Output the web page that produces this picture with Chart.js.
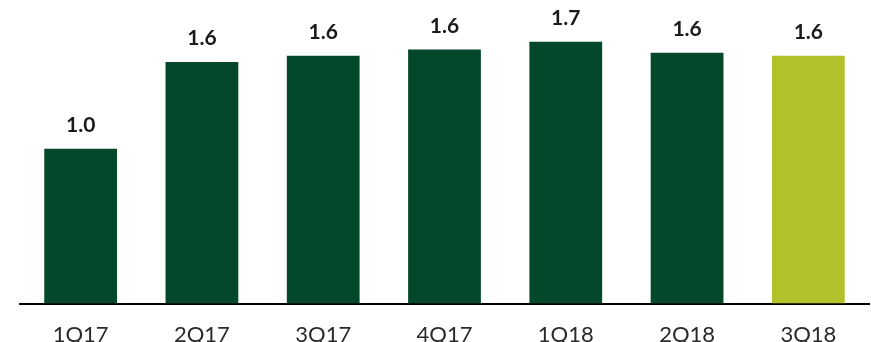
<!DOCTYPE html>
<html>
<head>
<meta charset="utf-8">
<script src="https://cdn.jsdelivr.net/npm/chart.js@4.4.0/dist/chart.umd.min.js"></script>
<style>
  html, body { margin: 0; padding: 0; background: #ffffff; }
  #wrap { width: 871px; height: 342px; position: relative; }
</style>
</head>
<body>
<div id="wrap"><canvas id="c" width="871" height="342"></canvas></div>
<script>
const categories = ['1Q17', '2Q17', '3Q17', '4Q17', '1Q18', '2Q18', '3Q18'];
const values = [1.0, 1.56, 1.60, 1.64, 1.69, 1.62, 1.60];
const barColors = ['#03482a', '#03482a', '#03482a', '#03482a', '#03482a', '#03482a', '#b2c12a'];

const valueLabels = {
  id: 'valueLabels',
  afterDatasetsDraw(chart) {
    const ctx = chart.ctx;
    const meta = chart.getDatasetMeta(0);
    ctx.save();
    ctx.fillStyle = '#1a1a1a';
    ctx.font = 'bold 21px Lato';
    ctx.textAlign = 'center';
    ctx.textBaseline = 'alphabetic';
    meta.data.forEach((bar, i) => {
      ctx.fillText(values[i].toFixed(1), bar.x, bar.y - 17);
    });
    ctx.restore();
  }
};

new Chart(document.getElementById('c'), {
  type: 'bar',
  data: {
    labels: categories,
    datasets: [{
      data: values,
      backgroundColor: barColors,
      borderWidth: 0,
      barPercentage: 0.6,
      categoryPercentage: 1.0
    }]
  },
  options: {
    responsive: false,
    animation: false,
    layout: { padding: { left: 20, right: 2, top: 0, bottom: -24 } },
    plugins: { legend: { display: false }, tooltip: { enabled: false } },
    scales: {
      x: {
        grid: { display: false, drawTicks: false },
        border: { display: true, color: '#000000', width: 2 },
        ticks: { color: '#2a2a2a', font: { family: 'Lato', size: 22 }, padding: 18 }
      },
      y: {
        display: false,
        min: 0,
        max: 1.96
      }
    }
  },
  plugins: [valueLabels]
});
</script>
</body>
</html>
